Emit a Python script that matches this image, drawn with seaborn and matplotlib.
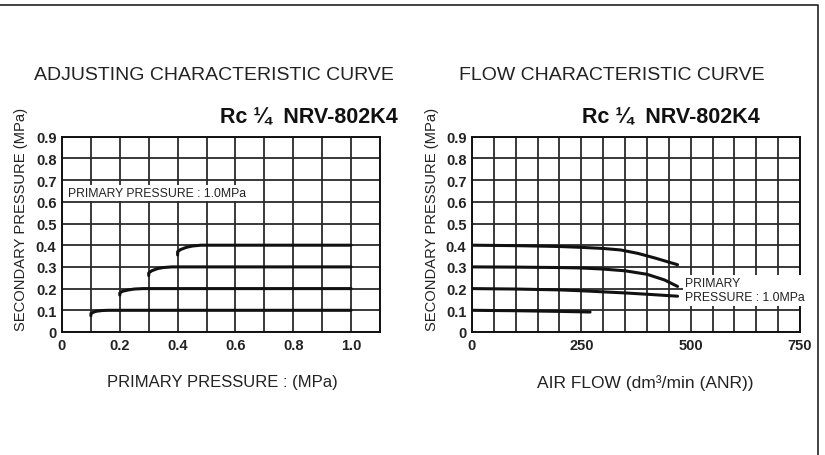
import numpy as np
import pandas as pd
import matplotlib
matplotlib.use('Agg')
import matplotlib.pyplot as plt
import seaborn as sns

# adjusting characteristic (primary pressure MPa -> secondary pressure MPa)
adj_x_01 = [0.10, 0.10, 0.11, 0.12, 0.14, 0.16, 0.20, 1.00]
adj_y_01 = [0.075, 0.085, 0.092, 0.096, 0.099, 0.100, 0.100, 0.100]
adj_x_02 = [0.20, 0.20, 0.21, 0.23, 0.25, 0.28, 0.30, 1.00]
adj_y_02 = [0.170, 0.180, 0.188, 0.194, 0.198, 0.200, 0.200, 0.200]
adj_x_03 = [0.30, 0.30, 0.31, 0.33, 0.35, 0.38, 0.40, 1.00]
adj_y_03 = [0.260, 0.272, 0.282, 0.292, 0.297, 0.300, 0.300, 0.300]
adj_x_04 = [0.40, 0.40, 0.41, 0.43, 0.45, 0.48, 0.50, 1.00]
adj_y_04 = [0.355, 0.370, 0.380, 0.390, 0.396, 0.400, 0.400, 0.400]

# flow characteristic (air flow dm3/min -> secondary pressure MPa)
flow_x_04 = [0, 100, 200, 250, 300, 340, 380, 420, 470]
flow_y_04 = [0.400, 0.398, 0.394, 0.390, 0.385, 0.378, 0.362, 0.340, 0.310]
flow_x_03 = [0, 100, 200, 250, 300, 350, 400, 440, 470]
flow_y_03 = [0.300, 0.299, 0.297, 0.295, 0.290, 0.282, 0.266, 0.240, 0.210]
flow_x_02 = [0, 100, 200, 250, 300, 350, 400, 470]
flow_y_02 = [0.200, 0.198, 0.194, 0.190, 0.185, 0.180, 0.174, 0.165]
flow_x_01 = [0, 100, 200, 250, 270]
flow_y_01 = [0.100, 0.098, 0.095, 0.093, 0.092]

sns.set_style('white')
plt.rcParams['font.family'] = ['Liberation Sans', 'DejaVu Sans']

fig = plt.figure(figsize=(8.25, 4.56), dpi=100)
ax1 = fig.add_axes([62 / 825, 1 - 333 / 456, 318 / 825, 195.3 / 456])
ax2 = fig.add_axes([472 / 825, 1 - 333 / 456, 328 / 825, 195.3 / 456])

# outer frame (top and right)
fig.add_artist(plt.Line2D([0.0, 818 / 825, 818 / 825],
                          [1 - 6 / 456, 1 - 6 / 456, 0.0],
                          transform=fig.transFigure, color='#222222', lw=1.2))

curve_kw = dict(color='#111111', linewidth=2.2, sort=False, estimator=None, legend=False)

for xs, ys in [(adj_x_01, adj_y_01), (adj_x_02, adj_y_02), (adj_x_03, adj_y_03), (adj_x_04, adj_y_04)]:
    sns.lineplot(x=xs, y=ys, ax=ax1, **curve_kw)
for xs, ys in [(flow_x_04, flow_y_04), (flow_x_03, flow_y_03), (flow_x_02, flow_y_02), (flow_x_01, flow_y_01)]:
    sns.lineplot(x=xs, y=ys, ax=ax2, **curve_kw)

yticks = np.round(np.arange(0, 0.91, 0.1), 1)
ylabels = ['0'] + ['%.1f' % v for v in yticks[1:]]

ax1.set_xlim(0, 1.1)
ax1.set_xticks(np.round(np.arange(0, 1.11, 0.1), 1))
ax1.set_xticklabels(['0', '', '0.2', '', '0.4', '', '0.6', '', '0.8', '', '1.0', ''])
ax2.set_xlim(0, 750)
ax2.set_xticks(np.arange(0, 751, 50))
ax2.set_xticklabels(['0' if v == 0 else (str(v) if v % 250 == 0 else '') for v in range(0, 751, 50)])

for ax in (ax1, ax2):
    ax.set_ylim(0, 0.9)
    ax.set_yticks(yticks)
    ax.set_yticklabels(ylabels)
    ax.grid(True, color='#2a2a2a', linewidth=1.3)
    ax.set_axisbelow(True)
    ax.tick_params(length=0, labelsize=10.5, pad=4)
    for lab in ax.get_xticklabels() + ax.get_yticklabels():
        lab.set_fontweight('bold')
        lab.set_color('#222222')
    for s in ax.spines.values():
        s.set_color('#111111')
        s.set_linewidth(1.4)
    ax.set_ylabel('')
    ax.set_xlabel('')

ax1.text(0.02, 0.64, 'PRIMARY PRESSURE : 1.0MPa', fontsize=8.8, color='#222222', va='center',
         bbox=dict(facecolor='white', edgecolor='none', pad=1.5))
ax2.text(487, 0.192, 'PRIMARY\nPRESSURE : 1.0MPa', fontsize=8.8, color='#222222', va='center',
         linespacing=1.25, bbox=dict(facecolor='white', edgecolor='none', pad=1.5))

fig.text(214 / 825, 1 - 76 / 456, 'ADJUSTING CHARACTERISTIC CURVE', fontsize=14,
         ha='center', va='center', color='#222222')
fig.text(612 / 825, 1 - 76 / 456, 'FLOW CHARACTERISTIC CURVE', fontsize=14,
         ha='center', va='center', color='#222222')
fig.text(398 / 825, 1 - 118 / 456, 'Rc ¼  NRV-802K4', fontsize=15.5, fontweight='bold',
         ha='right', va='center', color='#111111')
fig.text(760 / 825, 1 - 118 / 456, 'Rc ¼  NRV-802K4', fontsize=15.5, fontweight='bold',
         ha='right', va='center', color='#111111')
fig.text(222 / 825, 1 - 383 / 456, 'PRIMARY PRESSURE : (MPa)', fontsize=12,
         ha='center', va='center', color='#222222')
fig.text(645 / 825, 1 - 383 / 456, 'AIR FLOW (dm³/min (ANR))', fontsize=12.5,
         ha='center', va='center', color='#222222')
for xl in (21, 432):
    fig.text(xl / 825, 1 - 219 / 456, 'SECONDARY PRESSURE (MPa)', fontsize=10.6, rotation=90,
             ha='center', va='center', color='#222222')

fig.savefig('out.png', dpi=100, facecolor='white')
